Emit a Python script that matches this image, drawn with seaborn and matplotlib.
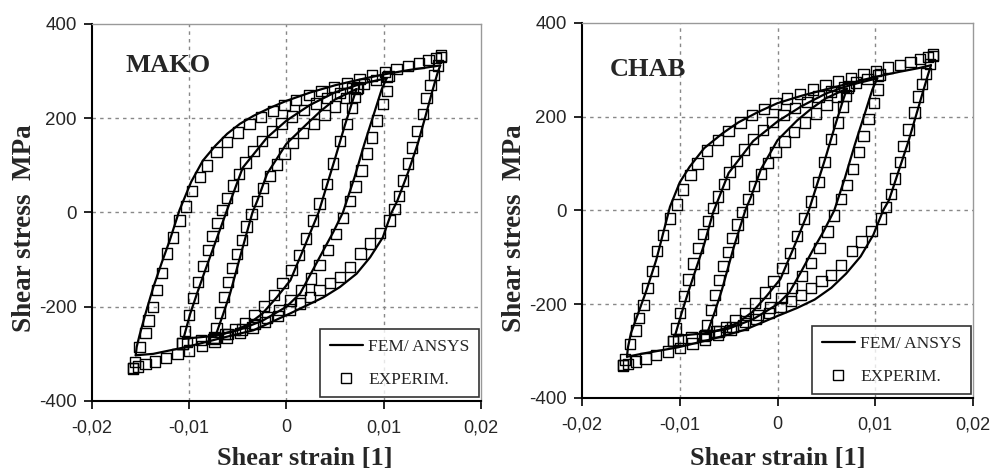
import numpy as np
import pandas as pd
import matplotlib
matplotlib.use("Agg")
import matplotlib.pyplot as plt
from matplotlib.lines import Line2D
import seaborn as sns

# ---- experimental data (same test for both panels) ----
exp_big_up_x = [-0.0158, -0.0156, -0.0151, -0.0145, -0.0142, -0.0137, -0.0133, -0.0128, -0.0123, -0.0117,
                -0.0110, -0.0103, -0.0097, -0.0089, -0.0082, -0.0072, -0.0061, -0.0050, -0.0038, -0.0026,
                -0.0014, -0.0002, 0.0010, 0.0023, 0.0036, 0.0049, 0.0062, 0.0075, 0.0088, 0.0101,
                0.0113, 0.0125, 0.0136, 0.0146, 0.0154, 0.0159]
exp_big_up_y = [-330, -318, -285, -256, -229, -201, -165, -129, -87, -53,
                -17, 13, 45, 75, 100, 128, 150, 170, 188, 203,
                216, 228, 239, 249, 258, 267, 275, 283, 291, 298,
                305, 311, 317, 323, 328, 333]
exp_big_dn_x = [0.0159, 0.0156, 0.0152, 0.0148, 0.0144, 0.0140, 0.0134, 0.0129, 0.0125, 0.0120,
                0.0116, 0.0111, 0.0106, 0.0096, 0.0086, 0.0076, 0.0065, 0.0055, 0.0045, 0.0034,
                0.0024, 0.0014, 0.0003, -0.0009, -0.0022, -0.0035, -0.0048, -0.0061, -0.0074, -0.0087,
                -0.0100, -0.0112, -0.0124, -0.0135, -0.0145, -0.0153, -0.0158]
exp_big_dn_y = [330, 312, 292, 270, 243, 209, 173, 138, 104, 68,
                35, 8, -17, -44, -66, -87, -116, -137, -150, -165,
                -180, -193, -206, -219, -232, -244, -255, -265, -275, -284,
                -293, -301, -309, -316, -322, -327, -331]
exp_mid_up_x = [-0.0107, -0.0104, -0.0100, -0.0096, -0.0091, -0.0086, -0.0081, -0.0076, -0.0071, -0.0066,
                -0.0061, -0.0055, -0.0049, -0.0042, -0.0034, -0.0025, -0.0015, -0.0005, 0.0006, 0.0018,
                0.0030, 0.0042, 0.0055, 0.0068, 0.0080, 0.0092, 0.0103]
exp_mid_up_y = [-278, -252, -218, -182, -147, -113, -80, -50, -22, 5,
                30, 57, 82, 106, 130, 152, 172, 189, 204, 218,
                231, 243, 254, 264, 273, 281, 288]
exp_mid_dn_x = [0.0105, 0.0103, 0.0099, 0.0093, 0.0088, 0.0083, 0.0077, 0.0071, 0.0065, 0.0058,
                0.0051, 0.0043, 0.0034, 0.0025, 0.0015, 0.0004, -0.0008, -0.0020, -0.0033, -0.0046,
                -0.0060, -0.0074, -0.0088, -0.0102, -0.0107]
exp_mid_dn_y = [290, 258, 230, 195, 159, 125, 89, 55, 25, -11,
                -45, -80, -112, -140, -165, -187, -207, -223, -237, -248,
                -258, -265, -271, -275, -278]
exp_sml_up_x = [-0.0075, -0.0072, -0.0068, -0.0064, -0.0060, -0.0056, -0.0051, -0.0046, -0.0041, -0.0036,
                -0.0030, -0.0024, -0.0017, -0.0010, -0.0002, 0.0007, 0.0017, 0.0028, 0.0039, 0.0050,
                0.0061, 0.0072]
exp_sml_up_y = [-268, -245, -212, -180, -148, -118, -88, -58, -30, -3,
                25, 52, 78, 102, 125, 147, 168, 188, 207, 225,
                243, 262]
exp_sml_dn_x = [0.0073, 0.0070, 0.0067, 0.0062, 0.0055, 0.0048, 0.0042, 0.0034, 0.0027, 0.0020,
                0.0013, 0.0005, -0.0004, -0.0013, -0.0023, -0.0033, -0.0043, -0.0053, -0.0063, -0.0073]
exp_sml_dn_y = [265, 245, 222, 188, 152, 104, 61, 19, -17, -55,
                -90, -122, -150, -175, -198, -218, -234, -248, -258, -266]

# ---- FEM / ANSYS, MAKO model ----
mako_big_up_x = [-0.0155, -0.0154, -0.0151, -0.0145, -0.0137, -0.0128, -0.0120, -0.0110, -0.0098, -0.0086,
                 -0.0073, -0.0061, -0.0048, -0.0034, -0.0017, 0.0, 0.0025, 0.0050, 0.0075, 0.0100,
                 0.0125, 0.0145, 0.0158]
mako_big_up_y = [-303, -285, -260, -215, -159, -105, -59, 5, 65, 110,
                 142, 167, 188, 205, 222, 237, 255, 270, 282, 293,
                 302, 308, 312]
mako_big_dn_x = [0.0158, 0.0155, 0.0150, 0.0143, 0.0135, 0.0125, 0.0114, 0.0108, 0.0099, 0.0086,
                 0.0072, 0.0055, 0.0038, 0.0020, 0.0004, -0.0034, -0.0068, -0.0102, -0.0137, -0.0155]
mako_big_dn_y = [312, 294, 258, 205, 146, 85, 25, 0, -53, -95,
                 -130, -158, -180, -198, -214, -250, -267, -285, -300, -303]
mako_mid_up_x = [-0.0106, -0.0099, -0.0092, -0.0084, -0.0075, -0.0062, -0.0045, -0.0020, 0.0, 0.0024,
                 0.0050, 0.0075, 0.0103]
mako_mid_up_y = [-268, -215, -172, -125, -74, 0, 95, 159, 195, 228,
                 255, 272, 285]
mako_mid_dn_x = [0.0103, 0.0098, 0.0090, 0.0080, 0.0070, 0.0058, 0.0048, 0.0038, 0.0025, 0.0014,
                 0.0, -0.0025, -0.0050, -0.0075, -0.0106]
mako_mid_dn_y = [285, 262, 210, 145, 75, 0, -42, -80, -130, -172,
                 -200, -230, -250, -262, -268]
mako_sml_up_x = [-0.0073, -0.0065, -0.0058, -0.0045, -0.0035, -0.0030, -0.0020, 0.0, 0.0021, 0.0035,
                 0.0050, 0.0072]
mako_sml_up_y = [-262, -215, -172, -74, 0, 25, 82, 146, 188, 215,
                 240, 262]
mako_sml_dn_x = [0.0072, 0.0068, 0.0060, 0.0050, 0.0033, 0.0017, 0.0004, -0.0010, -0.0025, -0.0040,
                 -0.0055, -0.0073]
mako_sml_dn_y = [262, 237, 185, 115, 0, -80, -144, -180, -215, -238,
                 -252, -262]

# ---- FEM / ANSYS, CHAB model ----
chab_big_up_x = [-0.0154, -0.0153, -0.0150, -0.0143, -0.0134, -0.0124, -0.0110, -0.0100, -0.0090, -0.0075,
                 -0.0056, -0.0040, -0.0020, 0.0, 0.0025, 0.0047, 0.0075, 0.0100, 0.0125, 0.0145, 0.0157]
chab_big_up_y = [-312, -292, -262, -222, -170, -105, 8, 60, 93, 133,
                 165, 188, 210, 229, 245, 257, 272, 285, 296, 304, 310]
chab_big_dn_x = [0.0157, 0.0154, 0.0149, 0.0142, 0.0134, 0.0124, 0.0114, 0.0108, 0.0098, 0.0085,
                 0.0070, 0.0055, 0.0038, 0.0020, 0.0, -0.0034, -0.0068, -0.0102, -0.0137, -0.0154]
chab_big_dn_y = [310, 290, 255, 205, 148, 85, 22, 0, -52, -98,
                 -135, -165, -190, -208, -225, -255, -275, -292, -305, -312]
chab_mid_up_x = [-0.0105, -0.0098, -0.0091, -0.0083, -0.0075, -0.0066, -0.0050, -0.0025, 0.0, 0.0025,
                 0.0050, 0.0075, 0.0102]
chab_mid_up_y = [-268, -218, -172, -122, -72, -5, 80, 148, 190, 223,
                 250, 268, 282]
chab_mid_dn_x = [0.0102, 0.0097, 0.0089, 0.0079, 0.0069, 0.0058, 0.0047, 0.0036, 0.0023, 0.0012,
                 0.0, -0.0025, -0.0050, -0.0075, -0.0105]
chab_mid_dn_y = [282, 258, 205, 140, 70, 0, -45, -85, -135, -175,
                 -200, -232, -252, -262, -268]
chab_sml_up_x = [-0.0072, -0.0064, -0.0057, -0.0045, -0.0033, -0.0027, -0.0017, 0.0, 0.0020, 0.0035,
                 0.0050, 0.0071]
chab_sml_up_y = [-262, -215, -170, -80, 0, 30, 88, 150, 192, 218,
                 240, 260]
chab_sml_dn_x = [0.0071, 0.0067, 0.0059, 0.0049, 0.0032, 0.0016, 0.0003, -0.0011, -0.0026, -0.0041,
                 -0.0056, -0.0072]
chab_sml_dn_y = [260, 235, 182, 112, 0, -82, -146, -182, -217, -240,
                 -253, -262]

x_ticks = [-0.02, -0.01, 0, 0.01, 0.02]
x_tick_labels = ["-0,02", "-0,01", "0", "0,01", "0,02"]
y_ticks = [-400, -200, 0, 200, 400]
y_tick_labels = ["-400", "-200", "0", "200", "400"]


def to_frame(pairs):
    rows = []
    for i, (xs, ys) in enumerate(pairs):
        rows.append(pd.DataFrame({"strain": xs, "stress": ys, "branch": i}))
    return pd.concat(rows, ignore_index=True)


exp_df = to_frame([(exp_big_up_x, exp_big_up_y), (exp_big_dn_x, exp_big_dn_y),
                   (exp_mid_up_x, exp_mid_up_y), (exp_mid_dn_x, exp_mid_dn_y),
                   (exp_sml_up_x, exp_sml_up_y), (exp_sml_dn_x, exp_sml_dn_y)])
mako_df = to_frame([(mako_big_up_x, mako_big_up_y), (mako_big_dn_x, mako_big_dn_y),
                    (mako_mid_up_x, mako_mid_up_y), (mako_mid_dn_x, mako_mid_dn_y),
                    (mako_sml_up_x, mako_sml_up_y), (mako_sml_dn_x, mako_sml_dn_y)])
chab_df = to_frame([(chab_big_up_x, chab_big_up_y), (chab_big_dn_x, chab_big_dn_y),
                    (chab_mid_up_x, chab_mid_up_y), (chab_mid_dn_x, chab_mid_dn_y),
                    (chab_sml_up_x, chab_sml_up_y), (chab_sml_dn_x, chab_sml_dn_y)])

sns.set_style("white")
plt.rcParams["font.family"] = ["Liberation Sans", "DejaVu Sans"]

fig = plt.figure(figsize=(9.92, 4.76), dpi=100)
ax1 = fig.add_axes([0.0927, 0.1576, 0.3922, 0.792])
ax2 = fig.add_axes([0.5867, 0.1639, 0.3942, 0.7878])

serif = ["Liberation Serif", "DejaVu Serif"]

panels = [(ax1, mako_df, "MAKO", (0.085, 0.89)),
          (ax2, chab_df, "CHAB", (0.072, 0.875))]

for ax, fem_df, name, name_pos in panels:
    sns.lineplot(data=fem_df, x="strain", y="stress", units="branch", estimator=None,
                 sort=False, color="black", linewidth=1.6, ax=ax, legend=False)
    sns.scatterplot(data=exp_df, x="strain", y="stress", marker="s", s=55,
                    facecolor="none", edgecolor="black", linewidth=1.0, ax=ax, legend=False)

    ax.set_xlim(-0.02, 0.02)
    ax.set_ylim(-400, 400)
    ax.set_xticks(x_ticks)
    ax.set_xticklabels(x_tick_labels, fontsize=13)
    ax.set_yticks(y_ticks)
    ax.set_yticklabels(y_tick_labels, fontsize=13.5)
    ax.tick_params(axis="both", direction="out", length=6, width=1.2, color="black",
                   bottom=True, left=True)
    ax.tick_params(axis="x", pad=7)
    ax.tick_params(axis="y", pad=5)

    # dotted grid at the inner ticks
    for gx in [-0.01, 0, 0.01]:
        ax.axvline(gx, color="#888888", linestyle=(0, (2.5, 3)), linewidth=1.0, zorder=0)
    for gy in [-200, 0, 200]:
        ax.axhline(gy, color="#888888", linestyle=(0, (2.5, 3)), linewidth=1.0, zorder=0)

    for side in ["left", "bottom"]:
        ax.spines[side].set_color("black")
        ax.spines[side].set_linewidth(1.5)
    for side in ["top", "right"]:
        ax.spines[side].set_color("#999999")
        ax.spines[side].set_linewidth(1.0)

    ax.set_xlabel("Shear strain [1]", family=serif, fontweight="bold", fontsize=19)
    ax.set_ylabel("Shear stress  MPa", family=serif, fontweight="bold", fontsize=19.5)

    ax.text(name_pos[0], name_pos[1], name, transform=ax.transAxes, family=serif,
            fontweight="bold", fontsize=19, va="center", ha="left")

    handles = [Line2D([], [], color="black", linewidth=1.6),
               Line2D([], [], color="black", marker="s", markersize=7, markerfacecolor="none",
                      linestyle="none", markeredgewidth=1.0)]
    leg = ax.legend(handles, ["FEM/ ANSYS", "EXPERIM."], loc="lower right",
                    bbox_to_anchor=(0.995, 0.01), frameon=True, fancybox=False,
                    prop={"family": serif, "size": 12.5}, handlelength=1.9, handletextpad=0.3,
                    borderpad=0.55, labelspacing=0.95, borderaxespad=0.0)
    leg.get_frame().set_edgecolor("black")
    leg.get_frame().set_linewidth(1.2)

ax1.yaxis.set_label_coords(-0.141, 0.459)
ax2.yaxis.set_label_coords(-0.141, 0.453)
ax1.xaxis.set_label_coords(0.548, -0.122)
ax2.xaxis.set_label_coords(0.5, -0.131)

fig.savefig("out.png", dpi=100)
